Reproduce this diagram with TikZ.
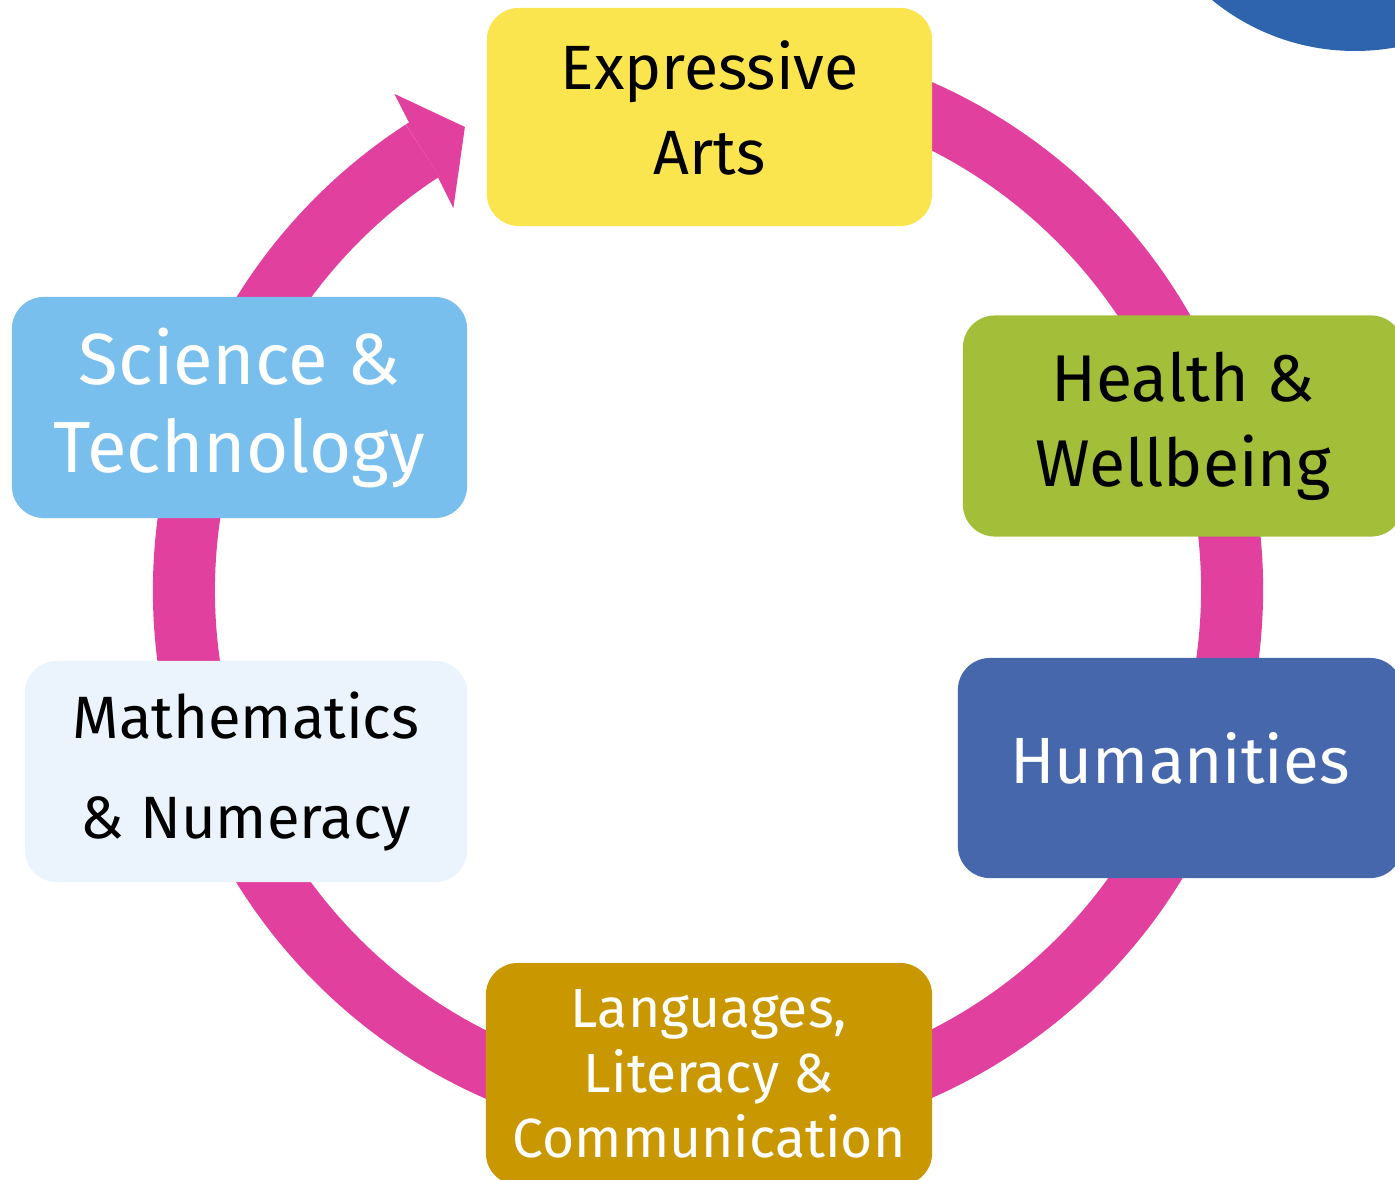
\documentclass[tikz,border=0pt]{standalone}
\usepackage{fontspec}
\setmainfont{Fira Sans}
\usetikzlibrary{positioning}
\usetikzlibrary{calc}

\definecolor{ringpink}{HTML}{E2409F}
\definecolor{artsyellow}{HTML}{FBE54F}
\definecolor{healthgreen}{HTML}{A3BE39}
\definecolor{humblue}{HTML}{4767AC}
\definecolor{langgold}{HTML}{C99700}
\definecolor{mathpale}{HTML}{EBF4FD}
\definecolor{sciblue}{HTML}{79BFEE}
\definecolor{cornerblue}{HTML}{2E63AE}

\begin{document}
\begin{tikzpicture}[x=0.01cm, y=-0.01cm,
		area/.style={rectangle, rounded corners=0.32cm, align=center, inner sep=0pt},
		ring/.style={draw=ringpink, line width=0.62cm}]
			\clip (0,0) rectangle (1395,1179);
			\fill[cornerblue] (1355,-175) circle[radius=226];

			\coordinate (hub) at (708,590);
			% the cycle ring and its head
			\draw[ring] ($(hub)+(-80:524)$) arc[start angle=-80, end angle=237, radius=524];
			\fill[ringpink] ($(hub)+(237.4:555)$) -- ($(hub)+(237.7:587)$) -- ($(hub)+(242.3:523)$)
				-- ($(hub)+(236.3:459)$) -- ($(hub)+(236.8:493)$) -- ($(hub)+(237:493)$) -- ($(hub)+(237:555)$) -- cycle;

			\node[area, fill=artsyellow, minimum width=4.45cm, minimum height=2.18cm, text depth=5.4pt,
				font=\fontsize{17.8}{24.2}\selectfont] (arts) at (709.5,117) {Expressive\\Arts};
			\node[area, fill=healthgreen, minimum width=4.40cm, minimum height=2.21cm,
				font=\fontsize{18.8}{24.2}\selectfont] (health) at (1183,426) {Health \&\\Wellbeing};
			\node[area, fill=humblue, text=white, minimum width=4.44cm, minimum height=2.20cm, text depth=5.6pt,
				font=\fontsize{18.6}{24}\selectfont] (hum) at (1180,768) {Humanities};
			\node[area, fill=langgold, text=white, minimum width=4.46cm, minimum height=2.22cm,
				font=\fontsize{15.7}{18.5}\selectfont] (lang) at (709,1074) {Languages,\\Literacy \&\\Communication};
			\node[area, fill=mathpale, minimum width=4.42cm, minimum height=2.21cm,
				font=\fontsize{17}{28.2}\selectfont] (maths) at (246,771.5) {Mathematics\\\& Numeracy};
			\node[area, fill=sciblue, text=white, minimum width=4.55cm, minimum height=2.21cm,
				font=\fontsize{20.6}{25}\selectfont] (sci) at (239.5,407.5) {Science \&\\Technology};
		\end{tikzpicture}
\end{document}
